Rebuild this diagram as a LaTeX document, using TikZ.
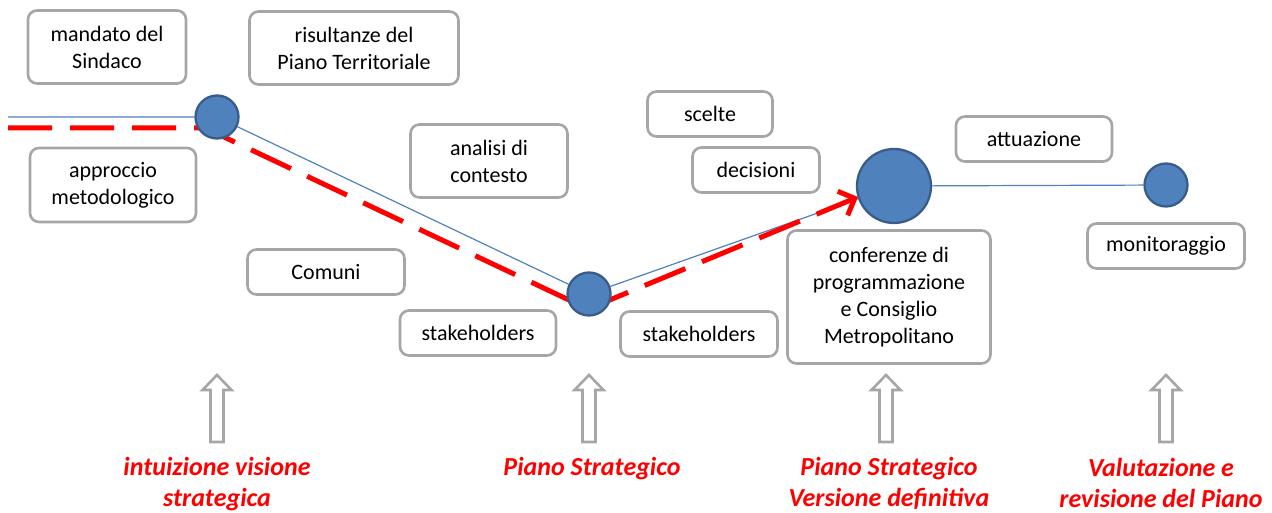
\documentclass[tikz,border=0pt]{standalone}
\usepackage{fontspec}
\setmainfont{Carlito}
\usetikzlibrary{arrows.meta}
\usetikzlibrary{backgrounds}

\definecolor{boxgray}{RGB}{166,166,166}
\definecolor{dotblue}{RGB}{79,129,189}
\definecolor{dotedge}{RGB}{56,93,138}

\tikzset{
    box/.style={draw=boxgray, line width=2.6pt, rounded corners=9pt, align=center,
        font=\fontsize{22}{27}\selectfont},
    dot/.style={circle, fill=dotblue, draw=dotedge, line width=2.3pt, inner sep=0pt},
    phase/.style={text=red, align=center, inner sep=0pt,
        font=\fontsize{26}{31}\selectfont\bfseries\itshape},
    hollow/.style={draw=boxgray, line width=2.6pt, fill=white, line join=miter},
}

\begin{document}
\begin{tikzpicture}[x=1pt, y=-1pt]
        \useasboundingbox (0,0) rectangle (1272,513);

        % boxes
        \node[box, minimum width=158, minimum height=73] (sindaco) at (107,47) {mandato del\\Sindaco};
        \node[box, minimum width=209, minimum height=73] (territ) at (354,48) {risultanze del\\Piano Territoriale};
        \node[box, minimum width=166, minimum height=74] (approccio) at (113,185) {approccio\\metodologico};
        \node[box, minimum width=157, minimum height=73] (contesto) at (489,161) {analisi di\\contesto};
        \node[box, minimum width=157, minimum height=45] (comuni) at (326,272) {Comuni};
        \node[box, minimum width=156, minimum height=45] (stakeA) at (478,333) {stakeholders};
        \node[box, minimum width=157, minimum height=45] (stakeB) at (699,334) {stakeholders};
        \node[box, minimum width=125, minimum height=45] (scelte) at (710,114) {scelte};
        \node[box, minimum width=127, minimum height=45] (decisioni) at (756,170) {decisioni};
        \node[box, minimum width=156, minimum height=45] (attuazione) at (1034,139) {attuazione};
        \node[box, minimum width=203, minimum height=133] (conferenze) at (889,297) {conferenze di\\programmazione\\e Consiglio\\Metropolitano};
        \node[box, minimum width=157, minimum height=45] (monitor) at (1166,246) {monitoraggio};

        % milestones
        \node[dot, minimum size=43] (m1) at (217,117) {};
        \node[dot, minimum size=43] (m2) at (589,294) {};
        \node[dot, minimum size=74] (m3) at (894,186) {};
        \node[dot, minimum size=43] (m4) at (1166,185) {};

        \coordinate (start) at (8,117);
        \coordinate (rstart) at (8,128);
        \coordinate (rbend) at (205,128);
        \coordinate (rlow) at (588,309);
        \coordinate (rtip) at (858,197);

        \begin{pgfonlayer}{background}
            \draw[dotblue, line width=1.2pt] (start) -- (m1) -- (m2) -- (m3) -- (m4);
            \draw[red, line width=5pt, dash pattern=on 44pt off 18pt,
                -{Straight Barb[length=13pt, width=26pt]}]
                (rstart) -- (rbend) -- (rlow) -- (rtip);
        \end{pgfonlayer}

        % hollow arrows
        \foreach \x in {217,589,886,1166} {
            \draw[hollow] (\x,375) -- (\x+14.5,390) -- (\x+6.5,390) -- (\x+6.5,442)
                -- (\x-6.5,442) -- (\x-6.5,390) -- (\x-14.5,390) -- cycle;
        }

        % phases
        \node[phase] (intuizione) at (217,484) {intuizione visione\\strategica};
        \node[phase] (piano) at (592,469) {Piano Strategico};
        \node[phase] (definitiva) at (889,483) {Piano Strategico\\Versione definitiva};
        \node[phase] (valutazione) at (1161,483) {Valutazione e\\revisione del Piano};
\end{tikzpicture}
\end{document}
